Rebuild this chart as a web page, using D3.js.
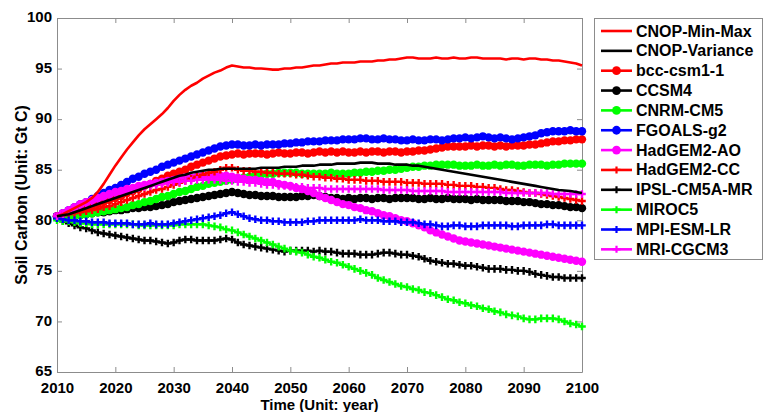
<!DOCTYPE html>
<html lang="en">
<head>
    <meta charset="UTF-8">
    <title>Soil Carbon projections</title>
    <script src="https://d3js.org/d3.v7.min.js"></script>
    <style>
        body, html {
            margin: 0;
            padding: 0;
            overflow: hidden;
            background: #fff;
        }
        svg {
            display: block;
            font-family: "Liberation Sans", Arial, Helvetica, sans-serif;
            font-weight: bold;
        }
        .axis path, .axis line {
            stroke: #8c8c8c;
            stroke-width: 1px;
        }
        .axis text {
            font-size: 15px;
            font-weight: bold;
            fill: #000;
        }
    </style>
</head>
<body>
    <svg width="769" height="412"></svg>

    <script>
        // years on the x axis, one point per year
        const years = d3.range(2010, 2101);
        const xTicks = [2010, 2020, 2030, 2040, 2050, 2060, 2070, 2080, 2090, 2100];
        const yTicks = [65, 70, 75, 80, 85, 90, 95, 100];

        const names = ["CNOP-Min-Max", "CNOP-Variance", "bcc-csm1-1", "CCSM4", "CNRM-CM5", "FGOALS-g2",
            "HadGEM2-AO", "HadGEM2-CC", "IPSL-CM5A-MR", "MIROC5", "MPI-ESM-LR", "MRI-CGCM3"];

        // values (Gt C)
        const cnopMinMax = [
            80.4, 80.6, 80.9, 81.2, 81.5, 81.8, 82.2, 82.8, 83.6, 84.5,
            85.4, 86.2, 87.0, 87.7, 88.4, 89.0, 89.5, 90.0, 90.5, 91.1,
            91.8, 92.4, 92.9, 93.3, 93.6, 94.0, 94.3, 94.6, 94.8, 95.1,
            95.3, 95.2, 95.1, 95.1, 95.0, 95.0, 94.95, 94.9, 94.9, 95.0,
            95.0, 95.1, 95.1, 95.2, 95.3, 95.3, 95.4, 95.5, 95.5, 95.6,
            95.6, 95.6, 95.7, 95.7, 95.7, 95.8, 95.8, 95.9, 95.9, 96.0,
            96.1, 96.1, 96.0, 96.0, 96.0, 96.1, 96.0, 96.0, 96.1, 96.0,
            96.0, 96.1, 96.1, 96.0, 96.0, 96.0, 96.0, 95.9, 96.0, 96.0,
            95.9, 96.0, 96.0, 95.9, 95.9, 95.8, 95.8, 95.7, 95.6, 95.5,
            95.3];
        const cnopVariance = [
            80.4, 80.5, 80.6, 80.8, 81.0, 81.2, 81.4, 81.6, 81.8, 82.0,
            82.2, 82.4, 82.6, 82.8, 83.0, 83.2, 83.4, 83.6, 83.8, 84.0,
            84.2, 84.4, 84.5, 84.7, 84.8, 84.9, 85.0, 85.0, 85.1, 85.1,
            85.1, 85.1, 85.1, 85.1, 85.1, 85.2, 85.2, 85.2, 85.2, 85.3,
            85.3, 85.3, 85.4, 85.4, 85.4, 85.5, 85.5, 85.5, 85.6, 85.6,
            85.6, 85.6, 85.7, 85.7, 85.7, 85.6, 85.6, 85.6, 85.5, 85.5,
            85.5, 85.4, 85.4, 85.3, 85.2, 85.1, 85.0, 84.9, 84.8, 84.7,
            84.6, 84.5, 84.4, 84.3, 84.2, 84.1, 84.0, 83.9, 83.8, 83.7,
            83.6, 83.5, 83.4, 83.3, 83.2, 83.1, 83.0, 82.95, 82.9, 82.8,
            82.7];
        const bcc = [
            80.4, 80.5, 80.7, 80.9, 81.0, 81.2, 81.4, 81.6, 81.8, 82.0,
            82.2, 82.4, 82.7, 82.9, 83.1, 83.4, 83.6, 83.9, 84.1, 84.4,
            84.6, 84.8, 85.0, 85.3, 85.5, 85.7, 85.9, 86.1, 86.3, 86.4,
            86.5, 86.6, 86.5, 86.6, 86.6, 86.6, 86.5, 86.6, 86.7, 86.6,
            86.6, 86.7, 86.7, 86.6, 86.7, 86.8, 86.7, 86.8, 86.7, 86.8,
            86.7, 86.7, 86.8, 86.7, 86.8, 86.8, 86.7, 86.8, 86.8, 86.7,
            86.8, 86.8, 86.9, 86.9, 87.0, 87.1, 87.2, 87.3, 87.3, 87.3,
            87.3, 87.4, 87.3, 87.4, 87.4, 87.3, 87.4, 87.3, 87.4, 87.4,
            87.4, 87.5, 87.5, 87.6, 87.7, 87.8, 87.8, 87.9, 87.9, 88.0,
            88.0];
        const ccsm4 = [
            80.4, 80.4, 80.5, 80.5, 80.6, 80.6, 80.7, 80.8, 80.8, 80.9,
            81.0, 81.0, 81.1, 81.2, 81.2, 81.3, 81.3, 81.4, 81.5, 81.6,
            81.8, 81.9, 82.0, 82.1, 82.2, 82.3, 82.4, 82.5, 82.6, 82.7,
            82.8, 82.7, 82.6, 82.5, 82.5, 82.4, 82.4, 82.4, 82.3, 82.3,
            82.3, 82.3, 82.4, 82.4, 82.5, 82.4, 82.3, 82.2, 82.2, 82.1,
            82.2, 82.1, 82.2, 82.2, 82.1, 82.2, 82.2, 82.1, 82.2, 82.2,
            82.2, 82.2, 82.1, 82.1, 82.2, 82.1, 82.1, 82.2, 82.1, 82.1,
            82.1, 82.0, 82.1, 82.0, 82.0, 82.0, 82.0, 81.9, 81.9, 81.9,
            81.8, 81.8, 81.7, 81.6, 81.6, 81.5, 81.5, 81.4, 81.3, 81.3,
            81.2];
        const cnrm = [
            80.3, 80.3, 80.4, 80.5, 80.5, 80.6, 80.7, 80.8, 80.9, 81.0,
            81.1, 81.2, 81.3, 81.5, 81.6, 81.8, 81.9, 82.1, 82.3, 82.4,
            82.6, 82.8, 82.9, 83.1, 83.3, 83.4, 83.6, 83.7, 83.8, 83.9,
            84.0, 84.1, 84.2, 84.3, 84.4, 84.5, 84.6, 84.6, 84.7, 84.7,
            84.7, 84.7, 84.6, 84.6, 84.6, 84.6, 84.6, 84.7, 84.6, 84.6,
            84.6, 84.7, 84.7, 84.8, 84.8, 84.9, 84.9, 85.0, 85.0, 85.1,
            85.2, 85.3, 85.3, 85.4, 85.4, 85.5, 85.5, 85.5, 85.5, 85.4,
            85.4, 85.4, 85.5, 85.4, 85.4, 85.5, 85.4, 85.5, 85.5, 85.4,
            85.4, 85.5, 85.5, 85.5, 85.4, 85.5, 85.5, 85.6, 85.6, 85.6,
            85.6];
        const fgoals = [
            80.4, 80.7, 81.0, 81.3, 81.6, 81.8, 82.1, 82.4, 82.7, 83.0,
            83.2, 83.5, 83.8, 84.1, 84.3, 84.6, 84.8, 85.0, 85.3, 85.5,
            85.7, 85.9, 86.1, 86.3, 86.5, 86.7, 86.9, 87.1, 87.3, 87.4,
            87.5, 87.5, 87.4, 87.4, 87.5, 87.4, 87.5, 87.5, 87.5, 87.6,
            87.6, 87.7, 87.7, 87.8, 87.8, 87.8, 87.9, 87.9, 87.9, 88.0,
            88.0, 88.0, 88.1, 88.1, 88.0, 88.0, 88.1, 88.0, 88.0, 87.9,
            87.9, 88.0, 87.9, 87.9, 88.0, 88.0, 87.9, 88.0, 88.1, 88.1,
            88.2, 88.1, 88.2, 88.3, 88.2, 88.1, 88.2, 88.1, 88.0, 88.1,
            88.2, 88.3, 88.4, 88.6, 88.7, 88.8, 88.8, 88.8, 88.9, 88.8,
            88.8];
        const hadAO = [
            80.4, 80.7, 81.0, 81.3, 81.6, 81.8, 82.0, 82.2, 82.4, 82.6,
            82.8, 82.9, 83.1, 83.2, 83.4, 83.5, 83.6, 83.7, 83.8, 83.9,
            84.0, 84.1, 84.2, 84.2, 84.3, 84.4, 84.4, 84.4, 84.4, 84.4,
            84.3, 84.2, 84.1, 84.0, 84.0, 83.9, 83.8, 83.8, 83.6, 83.5,
            83.4, 83.2, 83.1, 82.9, 82.7, 82.4, 82.2, 82.0, 81.8, 81.6,
            81.5, 81.3, 81.2, 81.0, 80.9, 80.7, 80.5, 80.4, 80.2, 80.0,
            79.9, 79.7, 79.5, 79.3, 79.0, 78.8, 78.6, 78.4, 78.2, 78.0,
            77.9, 77.8, 77.7, 77.6, 77.5, 77.4, 77.3, 77.2, 77.1, 77.0,
            76.9, 76.8, 76.7, 76.6, 76.5, 76.4, 76.3, 76.2, 76.1, 76.0,
            75.9];
        const hadCC = [
            80.4, 80.5, 80.6, 80.7, 80.8, 80.9, 81.0, 81.1, 81.3, 81.4,
            81.6, 81.8, 82.0, 82.2, 82.4, 82.6, 82.8, 83.0, 83.1, 83.3,
            83.5, 83.7, 83.9, 84.1, 84.3, 84.5, 84.7, 84.8, 85.0, 85.2,
            85.2, 85.0, 84.9, 84.9, 84.8, 84.8, 84.7, 84.7, 84.6, 84.6,
            84.6, 84.5, 84.5, 84.4, 84.3, 84.3, 84.2, 84.2, 84.1, 84.1,
            84.0, 84.0, 84.0, 83.9, 83.9, 83.9, 83.8, 83.8, 83.8, 83.8,
            83.7, 83.7, 83.7, 83.6, 83.6, 83.6, 83.6, 83.5, 83.5, 83.4,
            83.4, 83.4, 83.3, 83.3, 83.2, 83.2, 83.1, 83.0, 83.0, 82.9,
            82.8, 82.7, 82.7, 82.6, 82.5, 82.4, 82.3, 82.2, 82.1, 82.0,
            81.9];
        const ipsl = [
            80.2, 79.9, 79.7, 79.5, 79.3, 79.2, 79.0, 78.8, 78.7, 78.6,
            78.5, 78.4, 78.3, 78.2, 78.1, 78.0, 78.0, 77.9, 77.8, 77.7,
            77.8, 78.0, 78.1, 78.1, 78.0, 78.0, 78.0, 78.0, 78.1, 78.2,
            78.1, 77.8, 77.6, 77.5, 77.4, 77.3, 77.2, 77.1, 77.0, 76.9,
            77.0, 77.0, 77.0, 77.0, 76.9, 77.0, 76.9, 76.9, 76.8, 76.7,
            76.7, 76.7, 76.6, 76.6, 76.6, 76.7, 76.8, 76.8, 76.7, 76.6,
            76.6, 76.5, 76.4, 76.2, 76.0, 75.9, 75.8, 75.7, 75.7, 75.6,
            75.5, 75.5, 75.4, 75.3, 75.2, 75.2, 75.2, 75.1, 75.1, 75.0,
            75.0, 74.9, 74.7, 74.6, 74.5, 74.4, 74.4, 74.3, 74.3, 74.3,
            74.3];
        const miroc = [
            80.0, 79.9, 79.9, 79.8, 79.7, 79.7, 79.6, 79.6, 79.6, 79.6,
            79.6, 79.6, 79.6, 79.6, 79.5, 79.5, 79.5, 79.5, 79.5, 79.5,
            79.5, 79.6, 79.6, 79.6, 79.6, 79.6, 79.5, 79.4, 79.3, 79.1,
            79.0, 78.8, 78.6, 78.4, 78.2, 78.0, 77.8, 77.6, 77.4, 77.2,
            77.0, 76.9, 76.8, 76.6, 76.4, 76.3, 76.1, 75.9, 75.8, 75.6,
            75.4, 75.2, 75.0, 74.8, 74.6, 74.3, 74.1, 73.9, 73.7, 73.5,
            73.4, 73.2, 73.1, 72.9, 72.8, 72.6, 72.4, 72.2, 72.1, 71.9,
            71.8, 71.6, 71.5, 71.3, 71.2, 71.0, 70.9, 70.7, 70.6, 70.5,
            70.3, 70.2, 70.2, 70.3, 70.3, 70.3, 70.2, 70.0, 69.8, 69.7,
            69.5];
        const mpi = [
            80.2, 80.1, 80.0, 80.0, 79.9, 79.9, 79.8, 79.8, 79.8, 79.7,
            79.7, 79.7, 79.7, 79.6, 79.6, 79.6, 79.7, 79.6, 79.6, 79.6,
            79.7, 79.8, 79.9, 80.0, 80.1, 80.2, 80.3, 80.4, 80.5, 80.7,
            80.8, 80.6, 80.4, 80.2, 80.1, 80.0, 80.0, 79.9, 79.9, 79.8,
            79.8, 79.8, 79.8, 79.9, 79.9, 80.0, 80.0, 80.0, 80.0, 80.0,
            80.0, 80.0, 80.1, 80.0, 80.0, 80.0, 79.9, 79.9, 79.9, 79.8,
            79.8, 79.8, 79.7, 79.6, 79.6, 79.5, 79.4, 79.4, 79.5, 79.5,
            79.4, 79.4, 79.4, 79.5, 79.5, 79.5, 79.5, 79.5, 79.4, 79.4,
            79.5, 79.5, 79.5, 79.5, 79.6, 79.6, 79.5, 79.5, 79.5, 79.5,
            79.5];
        const mri = [
            80.4, 80.6, 80.9, 81.1, 81.4, 81.6, 81.8, 82.0, 82.2, 82.4,
            82.6, 82.7, 82.9, 83.0, 83.2, 83.3, 83.4, 83.5, 83.6, 83.7,
            83.8, 83.8, 83.9, 83.9, 84.0, 84.0, 84.0, 84.0, 84.0, 83.9,
            83.9, 83.8, 83.8, 83.7, 83.7, 83.6, 83.5, 83.5, 83.4, 83.4,
            83.3, 83.3, 83.3, 83.2, 83.2, 83.2, 83.1, 83.1, 83.1, 83.1,
            83.1, 83.1, 83.1, 83.1, 83.1, 83.1, 83.0, 83.0, 83.0, 83.0,
            83.0, 82.9, 82.9, 82.9, 82.9, 82.9, 82.9, 82.8, 82.8, 82.8,
            82.8, 82.8, 82.8, 82.8, 82.8, 82.8, 82.8, 82.7, 82.7, 82.7,
            82.7, 82.7, 82.7, 82.7, 82.7, 82.6, 82.6, 82.6, 82.6, 82.6,
            82.6];

        const seriesValues = [cnopMinMax, cnopVariance, bcc, ccsm4, cnrm, fgoals,
            hadAO, hadCC, ipsl, miroc, mpi, mri];
        const colors = ["#ff0000", "#000000", "#ff0000", "#000000", "#00ff00", "#0000ff",
            "#ff00ff", "#ff0000", "#000000", "#00ff00", "#0000ff", "#ff00ff"];
        const markers = ["none", "none", "o", "o", "o", "o", "o", "+", "+", "+", "+", "+"];

        const series = names.map((n, i) => ({
            name: n, color: colors[i], marker: markers[i],
            values: seriesValues[i].map((v, j) => ({ year: years[j], value: v }))
        }));

        const svg = d3.select("svg");
        const plotLeft = 57, plotRight = 582, plotTop = 18, plotBottom = 372;

        const x = d3.scaleLinear().domain([2010, 2100]).range([plotLeft, plotRight]);
        const y = d3.scaleLinear().domain([65, 100]).range([plotBottom, plotTop]);

        // axes box with inward ticks (MATLAB style)
        svg.append("g").attr("class", "axis")
            .attr("transform", `translate(0,${plotBottom})`)
            .call(d3.axisBottom(x).tickValues(xTicks).tickFormat(d3.format("d")).tickSize(-5).tickPadding(10).tickSizeOuter(0));
        svg.append("g").attr("class", "axis")
            .attr("transform", `translate(0,${plotTop})`)
            .call(d3.axisTop(x).tickValues(xTicks).tickFormat("").tickSize(-5).tickSizeOuter(0));
        svg.append("g").attr("class", "axis y-left")
            .attr("transform", `translate(${plotLeft},0)`)
            .call(d3.axisLeft(y).tickValues(yTicks).tickSize(-5).tickPadding(5).tickSizeOuter(0));
        svg.selectAll(".y-left .tick text").attr("dy", "0.25em");
        svg.append("g").attr("class", "axis")
            .attr("transform", `translate(${plotRight},0)`)
            .call(d3.axisRight(y).tickValues(yTicks).tickFormat("").tickSize(-5).tickSizeOuter(0));

        const line = d3.line().x(d => x(d.year)).y(d => y(d.value));

        // draw models first, the two CNOP curves on top
        const order = [2, 3, 4, 5, 6, 7, 8, 9, 10, 11, 0, 1];
        const plot = svg.append("g");
        order.forEach(i => {
            const s = series[i];
            const g = plot.append("g");
            g.append("path")
                .datum(s.values)
                .attr("fill", "none")
                .attr("stroke", s.color)
                .attr("stroke-width", s.marker === "none" ? 2.6 : 2)
                .attr("stroke-linejoin", "round")
                .attr("d", line);
            if (s.marker === "o") {
                g.selectAll("circle").data(s.values).join("circle")
                    .attr("cx", d => x(d.year))
                    .attr("cy", d => y(d.value))
                    .attr("r", 4.2)
                    .attr("fill", s.color);
            } else if (s.marker === "+") {
                g.selectAll("path.plus").data(s.values).join("path")
                    .attr("class", "plus")
                    .attr("d", d => {
                        const px = x(d.year), py = y(d.value), h = 3.8;
                        return `M${px - h},${py}H${px + h}M${px},${py - h}V${py + h}`;
                    })
                    .attr("stroke", s.color)
                    .attr("stroke-width", 2.4);
            }
        });

        // axis titles
        svg.append("text")
            .attr("x", (plotLeft + plotRight) / 2)
            .attr("y", 409.5)
            .attr("text-anchor", "middle")
            .attr("font-size", 15)
            .text("Time (Unit: year)");
        svg.append("text")
            .attr("transform", `translate(27,${(plotTop + plotBottom) / 2}) rotate(-90)`)
            .attr("text-anchor", "middle")
            .attr("font-size", 16)
            .text("Soil Carbon (Unit: Gt C)");

        // legend
        const legend = svg.append("g");
        legend.append("rect")
            .attr("x", 594.5).attr("y", 18.5)
            .attr("width", 168).attr("height", 241)
            .attr("fill", "#fff")
            .attr("stroke", "#8c8c8c");
        series.forEach((s, i) => {
            const ly = 31 + i * 19.85;
            legend.append("line")
                .attr("x1", 601).attr("x2", 632)
                .attr("y1", ly).attr("y2", ly)
                .attr("stroke", s.color).attr("stroke-width", 2.6);
            if (s.marker === "o") {
                legend.append("circle").attr("cx", 616.5).attr("cy", ly).attr("r", 4.4).attr("fill", s.color);
            } else if (s.marker === "+") {
                legend.append("path")
                    .attr("d", `M612.5,${ly}H620.5M616.5,${ly - 3.5}V${ly + 3.5}`)
                    .attr("stroke", s.color).attr("stroke-width", 2.2);
            }
            legend.append("text")
                .attr("x", 636).attr("y", ly + 5.5)
                .attr("font-size", 16)
                .text(s.name);
        });
    </script>
</body>
</html>
